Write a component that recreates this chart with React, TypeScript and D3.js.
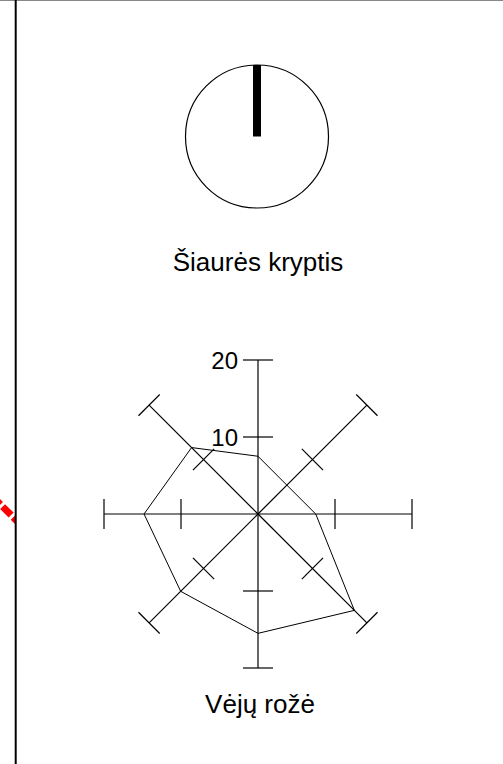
import React from 'react'
import * as d3 from 'd3'

// wind rose values, clockwise from north
const directions = ['N', 'NE', 'E', 'SE', 'S', 'SW', 'W', 'NW']
const windValues = [7.5, 5.3, 7.5, 17.7, 15.5, 14.2, 14.8, 12.2]
const axisTicks = [10, 20]
const tickLabels = ['10', '20']
const northAngle = 0 // degrees
const titles = ['Šiaurės kryptis', 'Vėjų rožė']

const W = 503
const H = 764
const FONT = "'Liberation Sans', Arial, sans-serif"

const App = () => {
  const cx = 258
  const cy = 514
  const r = d3.scaleLinear().domain([0, 20]).range([0, 154])
  const angle = d3
    .scalePoint<string>()
    .domain(directions)
    .range([0, (2 * Math.PI * 7) / 8])

  // polar -> cartesian (0 = up, clockwise)
  const pt = (a: number, rad: number): [number, number] => [
    cx + rad * Math.sin(a),
    cy - rad * Math.cos(a),
  ]

  const rose = d3
    .lineRadial<number>()
    .angle((_, i) => angle(directions[i]) as number)
    .radius((d) => r(d))
    .curve(d3.curveLinearClosed)

  const tickHalf = 15

  // compass
  const compC: [number, number] = [257, 136.5]
  const compR = 71.5
  const na = (northAngle * Math.PI) / 180

  return (
    <svg
      width={W}
      height={H}
      style={{ position: 'absolute', left: 0, top: 0, background: '#fff' }}
      fontFamily={FONT}
    >
      <defs>
        <clipPath id='leftclip'>
          <rect x={0} y={0} width={15} height={H} />
        </clipPath>
      </defs>
      <line x1={0} x2={W} y1={0.5} y2={0.5} stroke='#888' strokeWidth={1} />
      <line
        x1={-8}
        y1={496}
        x2={26}
        y2={530}
        stroke='#f00'
        strokeWidth={7}
        strokeDasharray='12 3'
        clipPath='url(#leftclip)'
      />
      <line x1={15.7} x2={15.7} y1={0} y2={H} stroke='#000' strokeWidth={2} />

      {/* compass */}
      <circle
        cx={compC[0]}
        cy={compC[1]}
        r={compR}
        fill='none'
        stroke='#000'
        strokeWidth={1.2}
      />
      <line
        x1={compC[0]}
        y1={compC[1]}
        x2={compC[0] + compR * Math.sin(na)}
        y2={compC[1] - compR * Math.cos(na)}
        stroke='#000'
        strokeWidth={8}
      />
      <text x={258} y={271} textAnchor='middle' fontSize={26} fill='#000'>
        {titles[0]}
      </text>

      {/* wind rose axes */}
      {directions.map((d) => {
        const a = angle(d) as number
        const [x2, y2] = pt(a, r(20))
        return (
          <g key={d}>
            <line x1={cx} y1={cy} x2={x2} y2={y2} stroke='#000' strokeWidth={1.2} />
            {axisTicks.map((t) => {
              const [tx, ty] = pt(a, r(t))
              const dx = tickHalf * Math.cos(a)
              const dy = tickHalf * Math.sin(a)
              return (
                <line
                  key={t}
                  x1={tx - dx}
                  y1={ty - dy}
                  x2={tx + dx}
                  y2={ty + dy}
                  stroke='#000'
                  strokeWidth={1.2}
                />
              )
            })}
          </g>
        )
      })}
      {axisTicks.map((t, i) => (
        <text
          key={t}
          x={cx - tickHalf - 5}
          y={cy - r(t) + 9}
          textAnchor='end'
          fontSize={24}
          fill='#000'
        >
          {tickLabels[i]}
        </text>
      ))}
      <path
        d={rose(windValues) || ''}
        transform={`translate(${cx},${cy})`}
        fill='none'
        stroke='#000'
        strokeWidth={1}
      />
      <text x={260} y={713} textAnchor='middle' fontSize={26} fill='#000'>
        {titles[1]}
      </text>
    </svg>
  )
}

export default App
